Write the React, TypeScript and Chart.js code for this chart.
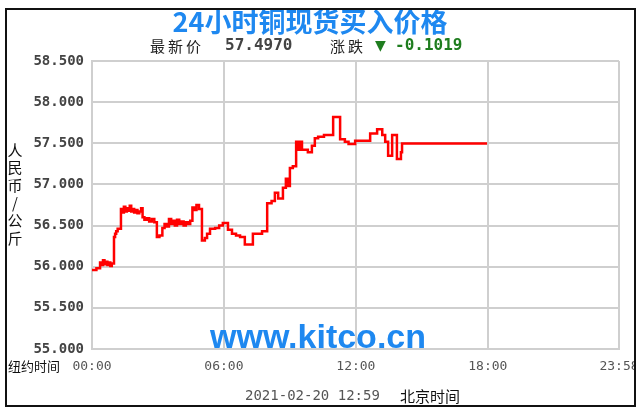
import React, { useEffect, useRef } from "react";
import { Chart, registerables } from "chart.js";
Chart.register(...registerables);

const TITLE = "24小时铜现货买入价格";
const LATEST_LABEL = "最新价";
const LATEST_VALUE = "57.4970";
const CHANGE_LABEL = "涨跌";
const CHANGE_ARROW = "▼";
const CHANGE_VALUE = "-0.1019";
const Y_TITLE = "人民币/公斤";
const X_LEFT_LABEL = "纽约时间";
const DATE_TEXT = "2021-02-20 12:59";
const TZ_TEXT = "北京时间";
const WATERMARK = "www.kitco.cn";

const xTickMinutes = [0, 360, 720, 1080, 1438];
const xTickLabels = ["00:00", "06:00", "12:00", "18:00", "23:58"];
const yMin = 55;
const yMax = 58.5;
const yStep = 0.5;

// minutes after 00:00 (New York time) at which each price starts
const minutes = [
  0, 12, 22, 26, 30, 34, 38, 42, 46, 50, 54, 60, 63, 66, 70,
  79, 83, 87, 91, 95, 99, 103, 107, 111, 115, 119, 124, 129, 134, 138,
  143, 150, 156, 163, 170, 177, 184, 192, 198, 204, 210, 216, 221, 226, 232,
  238, 244, 250, 256, 262, 268, 274, 280, 285, 292, 300, 308, 314, 322, 336,
  347, 357, 371, 382, 393, 404, 417, 439, 464, 478, 490, 499, 508, 521, 529,
  535, 540, 548, 557, 562, 568, 573, 589, 600, 608, 617, 633, 658, 677, 690,
  700, 718, 759, 778, 792, 800, 808, 819, 832, 843, 846, 1078,
];
const prices = [
  55.96, 55.98, 56.05, 56.02, 56.08, 56.03, 56.06, 56.02, 56.05, 56.01, 56.04, 56.36, 56.40, 56.43, 56.46,
  56.70, 56.66, 56.73, 56.67, 56.71, 56.68, 56.74, 56.67, 56.70, 56.66, 56.69, 56.65, 56.67, 56.71, 56.60,
  56.57, 56.59, 56.55, 56.58, 56.54, 56.36, 56.38, 56.47, 56.52, 56.49, 56.58, 56.52, 56.56, 56.50, 56.57,
  56.52, 56.55, 56.50, 56.54, 56.52, 56.56, 56.72, 56.69, 56.75, 56.70, 56.32, 56.35, 56.40, 56.46, 56.47,
  56.50, 56.53, 56.45, 56.40, 56.38, 56.36, 56.27, 56.40, 56.43, 56.77, 56.80, 56.90, 56.83, 56.96, 57.07,
  56.98, 57.20, 57.22, 57.52, 57.42, 57.52, 57.42, 57.39, 57.47, 57.56, 57.58, 57.60, 57.82, 57.55, 57.52,
  57.49, 57.53, 57.62, 57.67, 57.60, 57.52, 57.35, 57.60, 57.31, 57.39, 57.497, 57.497,
];

const BLUE = "#1E88F0";
const GREEN = "#1f7d1f";

const textPlugin = {
  id: "kitcoText",
  beforeDatasetsDraw(chart: any) {
    const ctx = chart.ctx;
    ctx.save();
    ctx.font = "bold 34px 'Liberation Sans', Arial, sans-serif";
    ctx.fillStyle = BLUE;
    ctx.textAlign = "center";
    ctx.textBaseline = "middle";
    ctx.fillText(WATERMARK, 318, 339);
    ctx.restore();
  },
  afterDraw(chart: any) {
    const ctx = chart.ctx;
    ctx.save();
    ctx.textBaseline = "middle";
    // title
    ctx.textAlign = "center";
    ctx.font = "bold 27px 'Noto Sans CJK SC', sans-serif";
    ctx.fillStyle = BLUE;
    ctx.fillText(TITLE, 310, 22);
    // subtitle
    ctx.textAlign = "left";
    (ctx as any).letterSpacing = "3px";
    ctx.font = "15px 'Noto Sans CJK SC', sans-serif";
    ctx.fillStyle = "#222";
    ctx.fillText(LATEST_LABEL, 150, 46);
    ctx.fillText(CHANGE_LABEL, 330, 46);
    (ctx as any).letterSpacing = "0px";
    ctx.font = "bold 16px 'DejaVu Sans Mono', monospace";
    ctx.fillStyle = "#444";
    ctx.fillText(LATEST_VALUE, 225, 46);
    ctx.fillStyle = GREEN;
    ctx.font = "14px 'DejaVu Sans', sans-serif";
    ctx.fillText(CHANGE_ARROW, 375, 46);
    ctx.font = "bold 16px 'DejaVu Sans Mono', monospace";
    ctx.fillText(CHANGE_VALUE, 395, 46);
    // vertical y title
    ctx.textAlign = "center";
    ctx.font = "15px 'Noto Sans CJK SC', sans-serif";
    ctx.fillStyle = "#111";
    Array.from(Y_TITLE).forEach((ch, i) => {
      ctx.fillText(ch, 15, 150 + i * 17.6);
    });
    // x left label
    ctx.textAlign = "left";
    ctx.font = "13px 'Noto Sans CJK SC', sans-serif";
    ctx.fillText(X_LEFT_LABEL, 8, 366);
    // bottom date
    ctx.font = "14px 'DejaVu Sans Mono', monospace";
    ctx.fillStyle = "#555";
    ctx.fillText(DATE_TEXT, 245, 396);
    ctx.font = "15px 'Noto Sans CJK SC', sans-serif";
    ctx.fillStyle = "#111";
    ctx.fillText(TZ_TEXT, 400, 396);
    // border
    ctx.fillStyle = "#fff";
    ctx.fillRect(636, 0, 10, 413);
    ctx.strokeStyle = "#111";
    ctx.lineWidth = 2;
    ctx.strokeRect(6, 9, 629, 397);
    ctx.restore();
  },
};

export default function App() {
  const ref = useRef<HTMLCanvasElement>(null);
  useEffect(() => {
    if (!ref.current) return;
    const points = minutes.map((m, i) => ({ x: m, y: prices[i] }));
    const grid = { color: "#cfcfcf", lineWidth: 2, drawTicks: false };
    const chart = new Chart(ref.current, {
      type: "line",
      data: {
        datasets: [
          {
            data: points,
            borderColor: "#ff0000",
            borderWidth: 2.5,
            pointRadius: 0,
            stepped: true,
            fill: false,
          },
        ],
      },
      options: {
        responsive: false,
        animation: false,
        layout: { padding: { top: 61, right: 21, left: 0, bottom: 0 } },
        plugins: { legend: { display: false }, tooltip: { enabled: false }, title: { display: false } },
        scales: {
          x: {
            type: "linear",
            min: xTickMinutes[0],
            max: xTickMinutes[xTickMinutes.length - 1],
            afterBuildTicks: (s: any) => {
              s.ticks = xTickMinutes.map((v) => ({ value: v }));
            },
            afterFit: (s: any) => {
              s.height = 64;
              s.paddingLeft = 0;
              s.paddingRight = 0;
            },
            ticks: {
              autoSkip: false,
              maxRotation: 0,
              minRotation: 0,
              padding: 10,
              color: "#555",
              font: { family: "'DejaVu Sans Mono', monospace", size: 13 },
              callback: (_v: any, i: number) => xTickLabels[i],
            },
            grid,
            border: { display: true, color: "#cfcfcf", width: 2 },
          },
          y: {
            min: yMin,
            max: yMax,
            afterFit: (s: any) => {
              s.width = 92;
              s.paddingTop = 0;
              s.paddingBottom = 0;
            },
            ticks: {
              stepSize: yStep,
              padding: 8,
              color: "#444",
              font: { family: "'DejaVu Sans Mono', monospace", size: 14, weight: "bold" },
              callback: (v: any) => Number(v).toFixed(3),
            },
            grid,
            border: { display: true, color: "#cfcfcf", width: 2 },
          },
        },
      },
      plugins: [textPlugin],
    } as any);
    return () => chart.destroy();
  }, []);
  return (
    <div style={{ position: "fixed", left: 0, top: 0, width: 640, height: 413, background: "#fff" }}>
      <canvas ref={ref} width={640} height={413} style={{ display: "block", width: 640, height: 413 }} />
    </div>
  );
}
